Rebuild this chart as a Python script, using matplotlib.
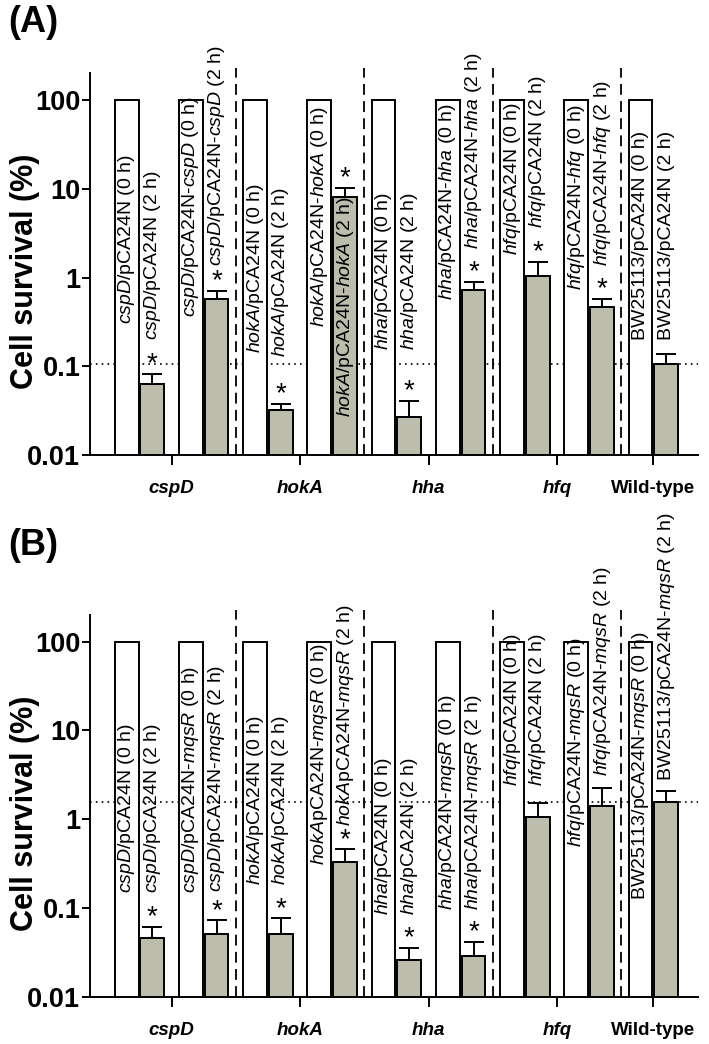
import numpy as np
import matplotlib
matplotlib.use("Agg")
import matplotlib.pyplot as plt

plt.rcParams['font.family'] = ['Liberation Sans', 'DejaVu Sans']
plt.rcParams['mathtext.fontset'] = 'custom'
plt.rcParams['mathtext.rm'] = 'Liberation Sans'
plt.rcParams['mathtext.it'] = 'Liberation Sans:italic'
plt.rcParams['mathtext.bf'] = 'Liberation Sans:bold'

# groups / ticks
groups = ['cspD', 'hokA', 'hha', 'hfq', 'Wild-type']
group_pairs = [[0, 1], [2, 3], [4, 5], [6, 7], [8]]

# panel A : toxin genes with pCA24N or pCA24N-gene
labels_0h_A = [r'$\mathit{cspD}$/pCA24N (0 h)', r'$\mathit{cspD}$/pCA24N-$\mathit{cspD}$ (0 h)',
               r'$\mathit{hokA}$/pCA24N (0 h)', r'$\mathit{hokA}$/pCA24N-$\mathit{hokA}$ (0 h)',
               r'$\mathit{hha}$/pCA24N (0 h)', r'$\mathit{hha}$/pCA24N-$\mathit{hha}$ (0 h)',
               r'$\mathit{hfq}$/pCA24N (0 h)', r'$\mathit{hfq}$/pCA24N-$\mathit{hfq}$ (0 h)',
               'BW25113/pCA24N (0 h)']
labels_2h_A = [r'$\mathit{cspD}$/pCA24N (2 h)', r'$\mathit{cspD}$/pCA24N-$\mathit{cspD}$ (2 h)',
               r'$\mathit{hokA}$/pCA24N (2 h)', r'$\mathit{hokA}$/pCA24N-$\mathit{hokA}$ (2 h)',
               r'$\mathit{hha}$/pCA24N (2 h)', r'$\mathit{hha}$/pCA24N-$\mathit{hha}$ (2 h)',
               r'$\mathit{hfq}$/pCA24N (2 h)', r'$\mathit{hfq}$/pCA24N-$\mathit{hfq}$ (2 h)',
               'BW25113/pCA24N (2 h)']
surv_0h_A = [100, 100, 100, 100, 100, 100, 100, 100, 100]
surv_2h_A = [0.063, 0.57, 0.032, 8.1, 0.027, 0.73, 1.03, 0.46, 0.105]
err_2h_A = [0.020, 0.14, 0.006, 2.1, 0.014, 0.17, 0.47, 0.12, 0.031]
sig_A = [1, 1, 1, 1, 1, 1, 1, 1, 0]

# panel B : same strains with pCA24N-mqsR
labels_0h_B = [r'$\mathit{cspD}$/pCA24N (0 h)', r'$\mathit{cspD}$/pCA24N-$\mathit{mqsR}$ (0 h)',
               r'$\mathit{hokA}$/pCA24N (0 h)', r'$\mathit{hokA}$pCA24N-$\mathit{mqsR}$ (0 h)',
               r'$\mathit{hha}$/pCA24N (0 h)', r'$\mathit{hha}$/pCA24N-$\mathit{mqsR}$ (0 h)',
               r'$\mathit{hfq}$/pCA24N (0 h)', r'$\mathit{hfq}$/pCA24N-$\mathit{mqsR}$ (0 h)',
               r'BW25113/pCA24N-$\mathit{mqsR}$ (0 h)']
labels_2h_B = [r'$\mathit{cspD}$/pCA24N (2 h)', r'$\mathit{cspD}$/pCA24N-$\mathit{mqsR}$ (2 h)',
               r'$\mathit{hokA}$/pCA24N (2 h)', r'$\mathit{hokA}$pCA24N-$\mathit{mqsR}$ (2 h)',
               r'$\mathit{hha}$/pCA24N (2 h)', r'$\mathit{hha}$/pCA24N-$\mathit{mqsR}$ (2 h)',
               r'$\mathit{hfq}$/pCA24N (2 h)', r'$\mathit{hfq}$/pCA24N-$\mathit{mqsR}$ (2 h)',
               r'BW25113/pCA24N-$\mathit{mqsR}$ (2 h)']
surv_0h_B = [100, 100, 100, 100, 100, 100, 100, 100, 100]
surv_2h_B = [0.046, 0.051, 0.051, 0.33, 0.026, 0.029, 1.05, 1.41, 1.56]
err_2h_B = [0.016, 0.022, 0.026, 0.13, 0.010, 0.013, 0.47, 0.84, 0.52]
sig_B = [1, 1, 1, 1, 1, 1, 0, 0, 0]

# where the rotated labels start (bottom of text, in % survival), 0 h / 2 h
txt_0h_A = [0.30, 0.356, 0.14, 0.274, 0.151, 0.552, 1.77, 0.715, 0.196]
txt_2h_A = [0.196, 1.36, 0.126, 0.0267, 0.151, 2.12, 3.65, 1.36, 0.196]
txt_0h_B = [0.148, 0.148, 0.182, 0.308, 0.083, 0.095, 2.37, 0.493, 0.123]
txt_2h_B = [0.148, 0.152, 0.182, 0.833, 0.083, 0.095, 2.37, 3.08, 2.70]

bar_grey = '#bcbdad'
w = 0.37
off = 0.2


def draw_panel(ax, l0, l2, s0, s2, e2, sig, t0, t2):
    pos = np.arange(len(s0))
    ax.set_yscale('log')
    ax.bar(pos - off, s0, w, color='white', edgecolor='black', linewidth=1.4, zorder=2)
    ax.bar(pos + off, s2, w, color=bar_grey, edgecolor='black', linewidth=1.4, zorder=2,
           yerr=[np.zeros(len(e2)), e2], capsize=7,
           error_kw=dict(elinewidth=1.4, capthick=1.4, ecolor='black'))
    for i in range(len(s0)):
        ax.text(pos[i] - off, t0[i], l0[i], rotation=90, ha='center', va='bottom',
                fontsize=14, zorder=3)
        ax.text(pos[i] + off, t2[i], l2[i], rotation=90, ha='center', va='bottom',
                fontsize=14, zorder=3)
        if sig[i]:
            ax.text(pos[i] + off, (s2[i] + e2[i]) * 1.06, '*', ha='center', va='baseline',
                    fontsize=20, zorder=3)
    # reference line at wild-type level
    ax.axhline(s2[-1], color='black', linestyle=(0, (1, 2.5)), linewidth=1.2, zorder=1)
    # separators between groups
    for k in range(len(group_pairs) - 1):
        xs = (group_pairs[k][-1] + group_pairs[k + 1][0]) / 2
        ax.axvline(xs, ymin=0, ymax=1.013, color='black', linestyle=(0, (6, 3.5)),
                   linewidth=1.3, clip_on=False, zorder=1)
    ax.set_xlim(-0.77, 8.7)
    ax.set_ylim(0.01, 200)
    ax.set_yticks([0.01, 0.1, 1, 10, 100])
    ax.set_yticklabels(['0.01', '0.1', '1', '10', '100'])
    ax.minorticks_off()
    ax.set_xticks([np.mean(g) for g in group_pairs])
    ax.set_xticklabels(groups)
    for lbl in ax.get_xticklabels():
        lbl.set_fontweight('bold')
        lbl.set_fontsize(13.5)
        if lbl.get_text() != 'Wild-type':
            lbl.set_style('italic')
    for lbl in ax.get_yticklabels():
        lbl.set_fontweight('bold')
        lbl.set_fontsize(19.5)
    ax.tick_params(axis='x', length=7, width=1.4, pad=11)
    ax.tick_params(axis='y', length=6, width=1.4, pad=1)
    ax.spines['top'].set_visible(False)
    ax.spines['right'].set_visible(False)
    ax.spines['left'].set_linewidth(1.4)
    ax.spines['bottom'].set_linewidth(1.4)
    ax.set_ylabel('Cell survival (%)', fontsize=22, fontweight='bold')
    ax.yaxis.set_label_coords(-0.082, 0.48)


fig = plt.figure(figsize=(7.09, 10.44), dpi=100)
axA = fig.add_axes([0.127, 0.564, 0.858, 0.366])
axB = fig.add_axes([0.127, 0.045, 0.858, 0.366])

draw_panel(axA, labels_0h_A, labels_2h_A, surv_0h_A, surv_2h_A, err_2h_A, sig_A, txt_0h_A, txt_2h_A)
draw_panel(axB, labels_0h_B, labels_2h_B, surv_0h_B, surv_2h_B, err_2h_B, sig_B, txt_0h_B, txt_2h_B)

fig.text(0.011, 0.995, '(A)', fontsize=26, fontweight='bold', va='top')
fig.text(0.011, 0.494, '(B)', fontsize=26, fontweight='bold', va='top')

fig.savefig('out.png', dpi=100)
